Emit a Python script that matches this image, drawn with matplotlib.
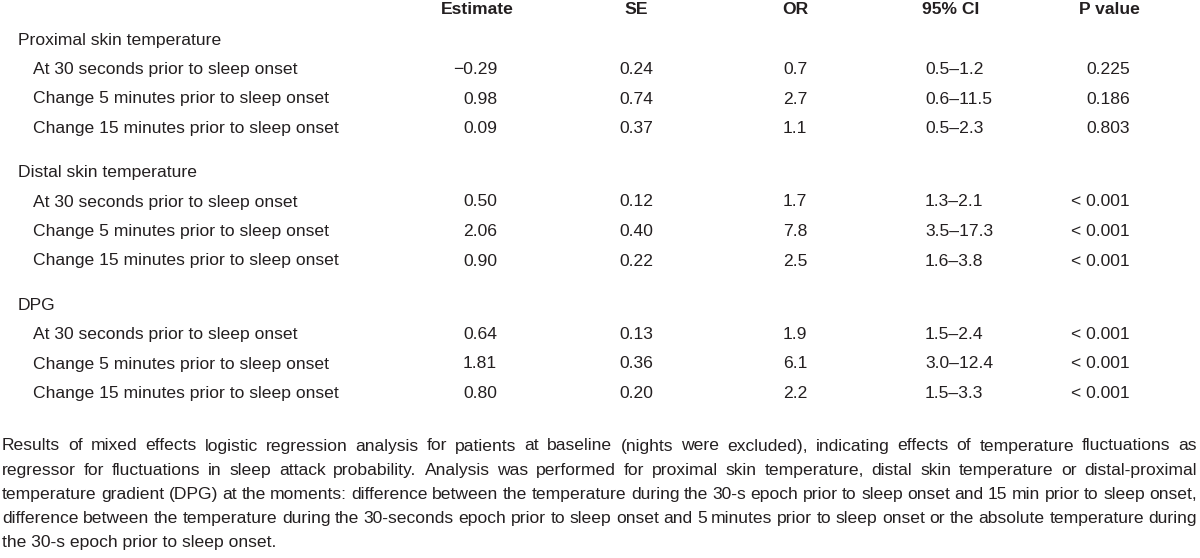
import matplotlib

matplotlib.use("Agg")
import matplotlib.pyplot as plt

# table content
columns = ["Estimate", "SE", "OR", "95% CI", "P value"]
groups = ["Proximal skin temperature", "Distal skin temperature", "DPG"]
moments = [
    "At 30 seconds prior to sleep onset",
    "Change 5 minutes prior to sleep onset",
    "Change 15 minutes prior to sleep onset",
]
estimate = [-0.29, 0.98, 0.09, 0.50, 2.06, 0.90, 0.64, 1.81, 0.80]
se = [0.24, 0.74, 0.37, 0.12, 0.40, 0.22, 0.13, 0.36, 0.20]
odds_ratio = [0.7, 2.7, 1.1, 1.7, 7.8, 2.5, 1.9, 6.1, 2.2]
ci_low = [0.5, 0.6, 0.5, 1.3, 3.5, 1.6, 1.5, 3.0, 1.5]
ci_high = [1.2, 11.5, 2.3, 2.1, 17.3, 3.8, 2.4, 12.4, 3.3]
p_value = ["0.225", "0.186", "0.803", "< 0.001", "< 0.001", "< 0.001",
           "< 0.001", "< 0.001", "< 0.001"]

caption_lines = [
    "Results of mixed effects logistic regression analysis for patients at baseline (nights were excluded), indicating effects of temperature fluctuations as",
    "regressor for fluctuations in sleep attack probability. Analysis was performed for proximal skin temperature, distal skin temperature or distal-proximal",
    "temperature gradient (DPG) at the moments: difference between the temperature during the 30-s epoch prior to sleep onset and 15 min prior to sleep onset,",
    "difference between the temperature during the 30-seconds epoch prior to sleep onset and 5 minutes prior to sleep onset or the absolute temperature during",
    "the 30-s epoch prior to sleep onset.",
]

FONT = ["Liberation Sans", "DejaVu Sans"]
INK = "#231f20"
SIZE = 12.6

fig = plt.figure(figsize=(12.0, 5.58), dpi=100)
ax = fig.add_axes([0, 0, 1, 1])
ax.set_xlim(0, 1200)
ax.set_ylim(558, 0)
ax.axis("off")

kw = dict(family=FONT, fontsize=SIZE, color=INK, va="center")

# header
header_x = [477, 636, 795, 951, 1109]
for name, x in zip(columns, header_x):
    ax.text(x, 10, name, ha="center", fontweight="bold", **kw)


def fmt_num(v, nd):
    return f"{v:.{nd}f}".replace("-", "\u2212")


group_y0 = 40
group_step = 132.5
row_step = 29.5
for g, group in enumerate(groups):
    gy = group_y0 + g * group_step
    ax.text(18, gy, group, ha="left", **kw)
    for m, moment in enumerate(moments):
        i = g * 3 + m
        y = gy + (m + 1) * row_step
        ax.text(33, y, moment, ha="left", **kw)
        ax.text(497, y, fmt_num(estimate[i], 2), ha="right", **kw)
        ax.text(636, y, fmt_num(se[i], 2), ha="center", **kw)
        ax.text(795, y, fmt_num(odds_ratio[i], 1), ha="center", **kw)
        ax.text(925, y, f"{ci_low[i]:.1f}\u2013{ci_high[i]:.1f}", ha="left", **kw)
        ax.text(1130, y, p_value[i], ha="right", **kw)

# justified caption
renderer = fig.canvas.get_renderer()
left, right = 2, 1197
cap_y0, cap_step = 446, 24.2
for n, line in enumerate(caption_lines):
    y = cap_y0 + n * cap_step
    if n == len(caption_lines) - 1:
        ax.text(left, y, line, ha="left", **kw)
        continue
    words = line.split(" ")
    texts = [ax.text(0, y, w, ha="left", **kw) for w in words]
    widths = [t.get_window_extent(renderer).width for t in texts]
    gap = (right - left - sum(widths)) / (len(words) - 1)
    x = left
    for t, w in zip(texts, widths):
        t.set_x(x)
        x += w + gap

fig.savefig("out.png", dpi=100)
